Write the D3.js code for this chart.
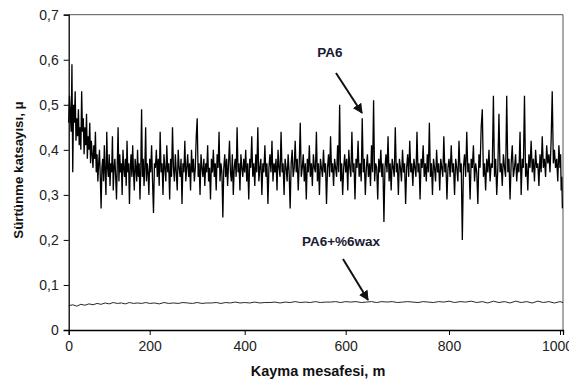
<!DOCTYPE html>
<html>
<head>
<meta charset="utf-8">
<script src="https://cdn.jsdelivr.net/npm/d3@7/dist/d3.min.js"></script>
<style>
  body { margin: 0; background: #fff; }
  text { font-family: Arial, "Liberation Sans", sans-serif; }
</style>
</head>
<body>
<script>
// friction coefficient, PA6, one reading every 2 m
const pa6Step = 2;
const pa6Seg1 = [0.46,0.52,0.48,0.44,0.59,0.35,0.50,0.46,0.53,0.42,
  0.47,0.43,0.49,0.41,0.45,0.40,0.53,0.44,0.47,0.39,
  0.45,0.41,0.48,0.38,0.43,0.40,0.46,0.37,0.42,0.39,
  0.36,0.41,0.38,0.44,0.35,0.39,0.33,0.37,0.40,0.34,
  0.27,0.36,0.38,0.33,0.41,0.35,0.30,0.44,0.36,0.34,
  0.39,0.32,0.37,0.35,0.43,0.31,0.36,0.38,0.34,0.29,
  0.37,0.45,0.33,0.39,0.35,0.37,0.30,0.40,0.36,0.34,
  0.38,0.32,0.42,0.35,0.37,0.28,0.36,0.39,0.34,0.41,
  0.35,0.31,0.38,0.36,0.33,0.40,0.34,0.37,0.29,0.36,
  0.49,0.34,0.38,0.32,0.36,0.45,0.33,0.37,0.35,0.30];
const pa6Seg2 = [0.38,0.35,0.41,0.33,0.26,0.37,0.36,0.40,0.34,0.38,
  0.32,0.44,0.35,0.37,0.30,0.39,0.36,0.33,0.41,0.35,
  0.37,0.29,0.38,0.34,0.45,0.36,0.33,0.39,0.35,0.31,
  0.40,0.36,0.34,0.38,0.28,0.37,0.35,0.42,0.33,0.36,
  0.39,0.34,0.37,0.31,0.40,0.35,0.38,0.33,0.36,0.43,
  0.47,0.34,0.37,0.30,0.39,0.36,0.34,0.38,0.32,0.37,
  0.35,0.41,0.33,0.36,0.29,0.38,0.35,0.40,0.34,0.37,
  0.31,0.39,0.36,0.44,0.33,0.37,0.35,0.25,0.36,0.39,
  0.34,0.38,0.32,0.37,0.42,0.35,0.33,0.39,0.30,0.36,
  0.38,0.34,0.45,0.35,0.37,0.31,0.39,0.36,0.34,0.38];
const pa6Seg3 = [0.35,0.40,0.33,0.37,0.29,0.38,0.36,0.43,0.34,0.37,
  0.32,0.39,0.35,0.45,0.33,0.36,0.38,0.30,0.37,0.35,
  0.41,0.34,0.37,0.28,0.36,0.39,0.35,0.42,0.33,0.37,
  0.35,0.38,0.31,0.40,0.36,0.34,0.44,0.35,0.37,0.30,
  0.38,0.36,0.33,0.39,0.35,0.27,0.37,0.40,0.34,0.36,
  0.42,0.35,0.38,0.31,0.37,0.46,0.34,0.36,0.39,0.33,
  0.37,0.29,0.38,0.35,0.41,0.34,0.37,0.32,0.39,0.36,
  0.35,0.44,0.33,0.37,0.30,0.38,0.36,0.34,0.40,0.35,
  0.37,0.28,0.36,0.39,0.34,0.43,0.35,0.37,0.32,0.38,
  0.36,0.34,0.41,0.35,0.50,0.33,0.37,0.30,0.36,0.39];
const pa6Seg4 = [0.35,0.38,0.31,0.40,0.36,0.34,0.44,0.35,0.37,0.29,
  0.38,0.36,0.42,0.34,0.37,0.33,0.47,0.35,0.38,0.30,
  0.36,0.39,0.34,0.37,0.32,0.41,0.35,0.51,0.33,0.37,
  0.36,0.29,0.38,0.35,0.40,0.34,0.37,0.24,0.36,0.39,
  0.35,0.43,0.33,0.37,0.31,0.38,0.36,0.34,0.45,0.35,
  0.37,0.30,0.38,0.36,0.33,0.40,0.35,0.37,0.28,0.36,
  0.39,0.34,0.42,0.35,0.37,0.32,0.38,0.36,0.34,0.44,
  0.35,0.37,0.29,0.38,0.36,0.41,0.34,0.37,0.33,0.39,
  0.35,0.46,0.34,0.37,0.30,0.38,0.36,0.33,0.40,0.35,
  0.37,0.31,0.38,0.36,0.34,0.43,0.35,0.37,0.29,0.36];
const pa6Seg5 = [0.38,0.34,0.41,0.35,0.37,0.30,0.38,0.36,0.33,0.42,
  0.35,0.37,0.20,0.36,0.39,0.34,0.44,0.35,0.37,0.29,
  0.38,0.36,0.41,0.33,0.37,0.35,0.28,0.39,0.36,0.45,
  0.49,0.34,0.37,0.31,0.38,0.35,0.40,0.33,0.37,0.36,
  0.52,0.34,0.38,0.30,0.36,0.48,0.35,0.37,0.32,0.39,
  0.36,0.34,0.52,0.35,0.38,0.29,0.37,0.41,0.34,0.36,
  0.39,0.33,0.37,0.35,0.44,0.30,0.38,0.36,0.52,0.34,
  0.37,0.31,0.39,0.36,0.42,0.35,0.38,0.33,0.40,0.36,
  0.37,0.32,0.39,0.35,0.43,0.36,0.38,0.34,0.41,0.37,
  0.39,0.35,0.42,0.53,0.37,0.40,0.36,0.38,0.33,0.41,
  0.36,0.39,0.31,0.34,0.27];

// PA6 + %6 wax, one reading every 10 m
const waxStep = 10;
const waxValues = [0.054,0.056,0.053,0.057,0.055,0.058,0.056,0.059,0.057,0.060,
  0.058,0.061,0.059,0.060,0.058,0.061,0.059,0.060,0.059,0.061,
  0.059,0.060,0.058,0.061,0.059,0.060,0.059,0.061,0.060,0.059,
  0.061,0.059,0.060,0.060,0.061,0.059,0.061,0.060,0.062,0.060,
  0.061,0.060,0.062,0.060,0.061,0.061,0.062,0.060,0.062,0.061,
  0.063,0.061,0.062,0.061,0.063,0.061,0.062,0.062,0.063,0.061,
  0.063,0.062,0.063,0.061,0.062,0.063,0.061,0.063,0.062,0.063,
  0.061,0.062,0.063,0.062,0.061,0.063,0.062,0.061,0.063,0.062,
  0.064,0.061,0.063,0.062,0.064,0.061,0.063,0.060,0.064,0.061,
  0.063,0.060,0.064,0.061,0.063,0.060,0.064,0.061,0.063,0.060,
  0.063,0.061];

const xTicks = [0, 200, 400, 600, 800, 1000];
const yTicks = [0, 0.1, 0.2, 0.3, 0.4, 0.5, 0.6, 0.7];

const xTitle = 'Kayma mesafesi, m';
const yTitle = 'Sürtünme katsayısı, μ';

const pa6 = [].concat(pa6Seg1, pa6Seg2, pa6Seg3, pa6Seg4, pa6Seg5)
  .map((v, i) => ({ x: i * pa6Step, y: v }));
const wax = waxValues.map((v, i) => ({ x: i * waxStep, y: v }));

const svg = d3.select('body').append('svg')
  .attr('width', 569)
  .attr('height', 385);

// the printed axis is slightly uneven, so map it piece by piece
const x = d3.scaleLinear()
  .domain([0, 200, 400, 600, 800, 1000, 1010])
  .range([68.7, 149.7, 244.7, 345.7, 449, 560, 563]);
const y = d3.scaleLinear().domain([0, 0.7]).range([330, 14.7]);

// frame top / right
svg.append('path')
  .attr('d', `M${x(0)},${y(0.7)}H${x(1010)}V${y(0)}`)
  .attr('fill', 'none')
  .attr('stroke', '#555')
  .attr('stroke-width', 1);

const line = d3.line().x(d => x(d.x)).y(d => y(d.y));

svg.append('path')
  .datum(pa6)
  .attr('fill', 'none')
  .attr('stroke', '#000')
  .attr('stroke-width', 1.3)
  .attr('d', line);

svg.append('path')
  .datum(wax)
  .attr('fill', 'none')
  .attr('stroke', '#111')
  .attr('stroke-width', 0.9)
  .attr('d', line);

const fmt = d => d === 0 ? '0' : d3.format('.1f')(d).replace('.', ',');

const xAxis = svg.append('g')
  .attr('transform', `translate(0,${y(0)})`)
  .call(d3.axisBottom(x).tickValues(xTicks).tickSize(5).tickPadding(6).tickFormat(d3.format('d')));
const yAxis = svg.append('g')
  .attr('transform', `translate(${x(0)},0)`)
  .call(d3.axisLeft(y).tickValues(yTicks).tickSize(5).tickPadding(5).tickFormat(fmt));

[xAxis, yAxis].forEach(a => {
  a.select('.domain').attr('stroke', '#000').attr('stroke-width', 1.3);
  a.selectAll('.tick line').attr('stroke', '#000');
  a.selectAll('.tick text')
    .attr('fill', '#222')
    .style('font-size', '14px')
    .style('font-family', 'Arial, "Liberation Sans", sans-serif');
});
// last label sits a little left of its tick, as printed
xAxis.selectAll('.tick text').filter(d => d === 1000).attr('dx', -3);

svg.append('text')
  .attr('x', 318)
  .attr('y', 376)
  .attr('text-anchor', 'middle')
  .attr('font-weight', 'bold')
  .attr('font-size', 14.5)
  .attr('fill', '#111')
  .text(xTitle);

svg.append('text')
  .attr('transform', 'translate(23,170) rotate(-90)')
  .attr('text-anchor', 'middle')
  .attr('font-weight', 'bold')
  .attr('font-size', 13.3)
  .attr('fill', '#111')
  .text(yTitle);

// annotations
svg.append('defs').append('marker')
  .attr('id', 'head')
  .attr('viewBox', '0 0 10 10')
  .attr('refX', 9).attr('refY', 5)
  .attr('markerWidth', 5).attr('markerHeight', 5)
  .attr('orient', 'auto')
  .append('path')
  .attr('d', 'M0,0L10,5L0,10z')
  .attr('fill', '#111');

const notes = [
  { label: 'PA6', tx: 330, ty: 57, from: [336, 73], to: [362, 113] },
  { label: 'PA6+%6wax', tx: 341, ty: 246, from: [343, 259], to: [368, 300] }
];

notes.forEach(n => {
  svg.append('text')
    .attr('x', n.tx).attr('y', n.ty)
    .attr('text-anchor', 'middle')
    .attr('font-weight', 'bold')
    .attr('font-size', 13.5)
    .attr('fill', '#1a1a33')
    .text(n.label);
  svg.append('line')
    .attr('x1', n.from[0]).attr('y1', n.from[1])
    .attr('x2', n.to[0]).attr('y2', n.to[1])
    .attr('stroke', '#111')
    .attr('stroke-width', 2)
    .attr('marker-end', 'url(#head)');
});
</script>
</body>
</html>
